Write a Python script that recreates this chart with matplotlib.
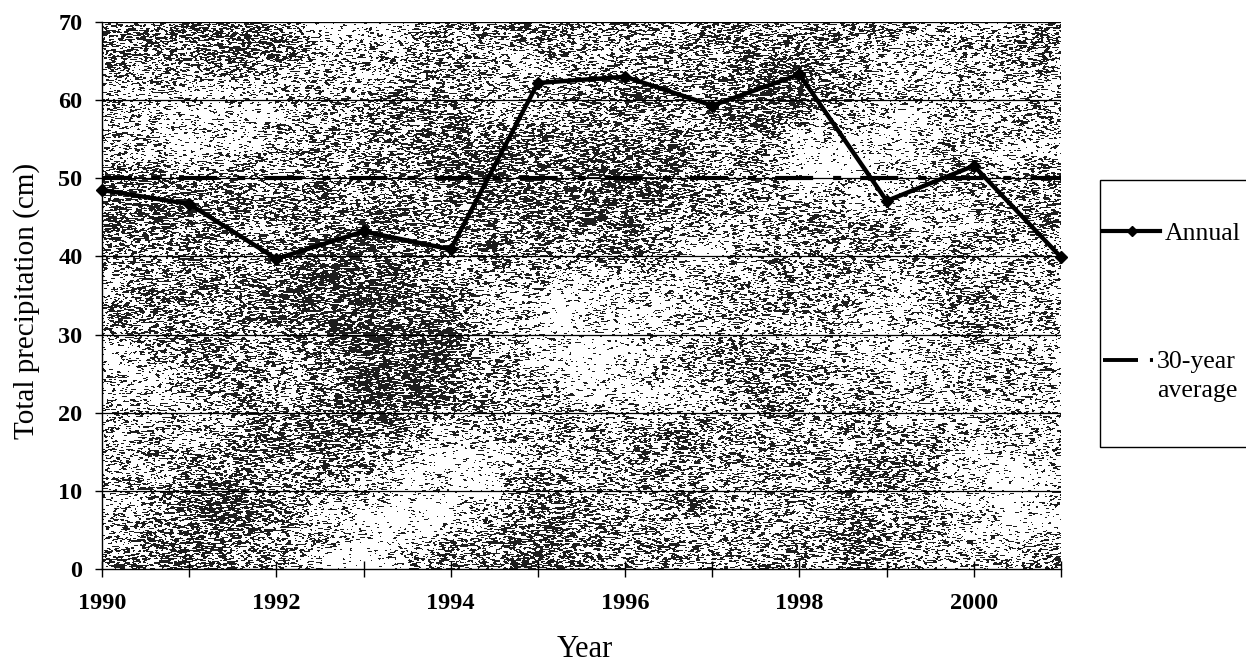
import numpy as np
import matplotlib
matplotlib.use("Agg")
import matplotlib.pyplot as plt
from matplotlib.lines import Line2D
from matplotlib.patches import Rectangle
from matplotlib.ticker import MultipleLocator, FuncFormatter

# --- data -------------------------------------------------------------
years = [1990, 1991, 1992, 1993, 1994, 1995, 1996, 1997, 1998, 1999, 2000, 2001]
annual_cm = [48.5, 46.7, 39.7, 43.2, 40.9, 62.2, 63.0, 59.3, 63.3, 47.1, 51.6, 39.9]
average_cm = 50.1
y_ticks = [0, 10, 20, 30, 40, 50, 60, 70]
x_label_years = [1990, 1992, 1994, 1996, 1998, 2000]

plt.rcParams["font.family"] = ["Liberation Serif", "DejaVu Serif"]
plt.rcParams["lines.scale_dashes"] = False

W_PX, H_PX, DPI = 1246, 663, 100
fig = plt.figure(figsize=(W_PX / DPI, H_PX / DPI), dpi=DPI, facecolor="white")

# plot area in pixels (left, top, right, bottom)
L, T, R, B = 102, 22, 1061, 569
ax = fig.add_axes([L / W_PX, 1 - B / H_PX, (R - L) / W_PX, (B - T) / H_PX])
ax.set_facecolor("white")


# --- grainy halftone backdrop of the plot area --------------------------
def gauss_smooth(a, sy, sx):
    ky = np.fft.fftfreq(a.shape[0])[:, None]
    kx = np.fft.fftfreq(a.shape[1])[None, :]
    g = np.exp(-2 * np.pi ** 2 * ((ky * sy) ** 2 + (kx * sx) ** 2))
    return np.real(np.fft.ifft2(np.fft.fft2(a) * g))


def norm(a):
    return (a - a.mean()) / a.std()


th, tw = B - T, R - L
rng = np.random.default_rng(1990)
blob = norm(gauss_smooth(rng.standard_normal((th, tw)), 32, 48))
mid = norm(gauss_smooth(rng.standard_normal((th, tw)), 8, 14))
grain = gauss_smooth(rng.standard_normal((th, tw)), 0.35, 1.1)
rank = np.argsort(np.argsort(grain.ravel())).reshape(th, tw) / grain.size
dark_share = np.clip(0.36 + 0.13 * blob + 0.06 * mid, 0.05, 0.8)
texture = np.where(rank < dark_share, 0.12, 1.0)
ax.imshow(texture, cmap="gray", vmin=0, vmax=1, extent=(1990, 2001, 0, 70),
          aspect="auto", interpolation="antialiased", zorder=0)

# --- gridlines, series -------------------------------------------------
for v in y_ticks[1:]:
    ax.axhline(v, color="black", lw=0.9, zorder=1)

avg_dash = (5.8, (27.4, 14.4, 5.8, 13.7))
ax.plot([years[0], years[-1]], [average_cm, average_cm], color="black",
        lw=3.0, linestyle=avg_dash, dash_capstyle="butt", zorder=2)
ax.plot(years, annual_cm, color="black", lw=3.2, marker="D", markersize=6.5,
        solid_joinstyle="miter", zorder=3, clip_on=False)

ax.set_xlim(1990, 2001)
ax.set_ylim(0, 70)

# --- axes styling --------------------------------------------------------
for side in ("top", "right"):
    ax.spines[side].set_visible(False)
for side in ("left", "bottom"):
    ax.spines[side].set_linewidth(1.0)
    ax.spines[side].set_zorder(4)

ax.yaxis.set_major_locator(MultipleLocator(10))
ax.xaxis.set_major_locator(MultipleLocator(1))
ax.xaxis.set_major_formatter(
    FuncFormatter(lambda v, p: f"{int(round(v))}" if int(round(v)) in x_label_years else ""))
ax.tick_params(axis="y", direction="out", length=5, width=1, pad=9,
               labelsize=17.5)
ax.tick_params(axis="x", direction="inout", length=11, width=1, pad=12,
               labelsize=17.5)
for lab in ax.get_xticklabels() + ax.get_yticklabels():
    lab.set_fontweight("bold")

fig.text(27 / W_PX, 1 - 301 / H_PX, "Total precipitation (cm)", rotation=90,
         ha="center", va="center", fontsize=21)
fig.text(585 / W_PX, 1 - 657 / H_PX, "Year", ha="center", va="baseline",
         fontsize=22)

# --- legend ---------------------------------------------------------------
def fx(px):
    return px / W_PX


def fy(py):
    return 1 - py / H_PX


fig.add_artist(Rectangle((fx(1100), fy(447)), fx(1300) - fx(1100), fy(180) - fy(447),
                         transform=fig.transFigure, facecolor="white",
                         edgecolor="black", lw=1.0, clip_on=False))
fig.add_artist(Line2D([fx(1103), fx(1160)], [fy(231), fy(231)],
                      transform=fig.transFigure, color="black", lw=3.0))
fig.add_artist(Line2D([fx(1132)], [fy(231)], transform=fig.transFigure,
                      color="black", marker="D", markersize=5.5, lw=0))
fig.text(fx(1165), fy(240), "Annual", ha="left", va="baseline", fontsize=18.5)

fig.add_artist(Line2D([fx(1103), fx(1160)], [fy(360), fy(360)],
                      transform=fig.transFigure, color="black", lw=2.8,
                      linestyle=(0, (25.2, 8.6, 2.2, 40)), dash_capstyle="butt"))
fig.text(fx(1157), fy(368), "30-year", ha="left", va="baseline", fontsize=18.5)
fig.text(fx(1157), fy(397), "average", ha="left", va="baseline", fontsize=18.5)

fig.savefig("out.png", dpi=DPI, facecolor="white")
